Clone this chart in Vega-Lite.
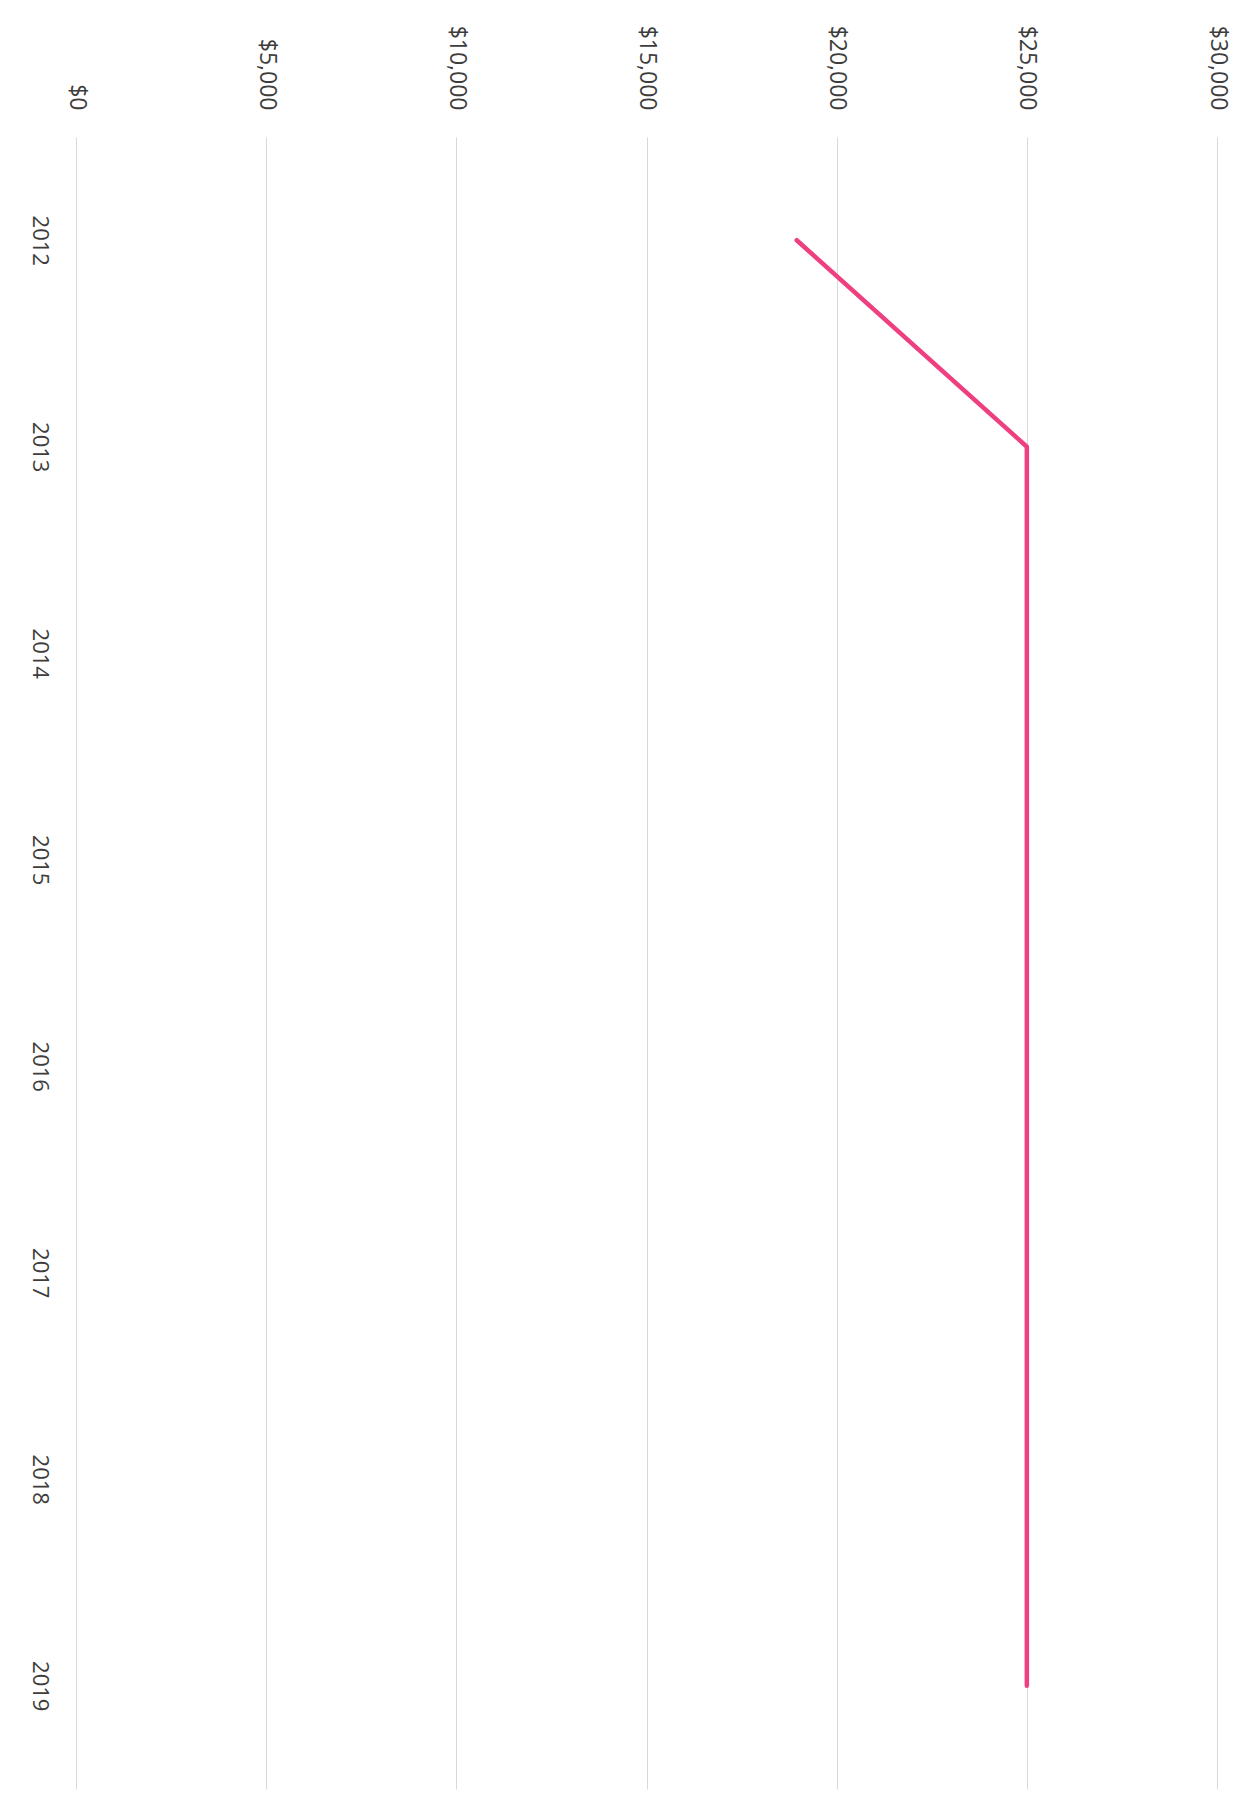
{
  "$schema": "https://vega.github.io/schema/vega-lite/v6.json",
  "width": 1141,
  "height": 1652,
  "autosize": {"type": "none"},
  "padding": {"left": 76, "top": 137, "right": 17, "bottom": 29},
  "background": "white",
  "data": {
    "values": [
      {"year": "2012", "value": 18950},
      {"year": "2013", "value": 25000},
      {"year": "2014", "value": 25000},
      {"year": "2015", "value": 25000},
      {"year": "2016", "value": 25000},
      {"year": "2017", "value": 25000},
      {"year": "2018", "value": 25000},
      {"year": "2019", "value": 25000}
    ]
  },
  "mark": {"type": "line", "color": "#EE4081", "strokeWidth": 4.5, "strokeCap": "round", "strokeJoin": "round"},
  "encoding": {
    "y": {
      "field": "year",
      "type": "ordinal",
      "scale": {"type": "point", "padding": 0.5},
      "axis": {
        "title": null,
        "orient": "left",
        "domain": false,
        "ticks": false,
        "grid": false,
        "labelAngle": 90,
        "labelAlign": "center",
        "labelBaseline": "top",
        "labelPadding": 27,
        "labelFont": "Open Sans",
        "labelFontSize": 22,
        "labelColor": "#3d3d3d"
      }
    },
    "x": {
      "field": "value",
      "type": "quantitative",
      "scale": {"domain": [0, 30000], "nice": false, "zero": true},
      "axis": {
        "title": null,
        "orient": "top",
        "values": [0, 5000, 10000, 15000, 20000, 25000, 30000],
        "format": "$,.0f",
        "domain": false,
        "ticks": false,
        "grid": true,
        "gridColor": "#d9d9d9",
        "gridWidth": 1,
        "labelAngle": 90,
        "labelAlign": "right",
        "labelBaseline": "middle",
        "labelPadding": 27,
        "labelFont": "Open Sans",
        "labelFontSize": 23,
        "labelColor": "#3d3d3d"
      }
    }
  },
  "config": {"view": {"stroke": null}}
}
